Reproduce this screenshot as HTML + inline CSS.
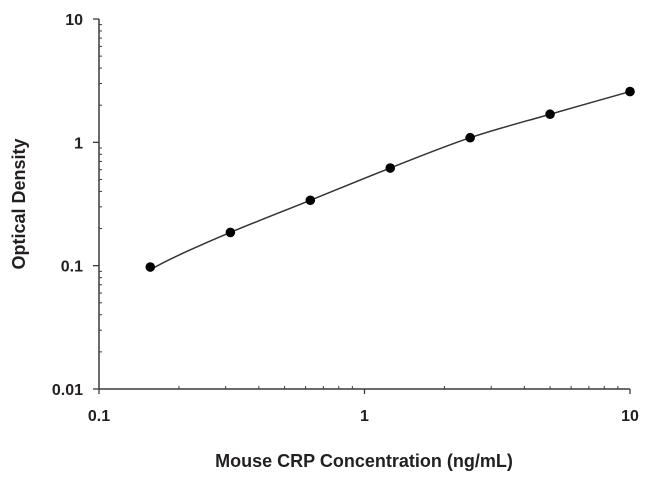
<!DOCTYPE html>
<html><head><meta charset="utf-8"><style>
html,body{margin:0;padding:0;background:#fff;}
svg{display:block;font-family:"Liberation Sans",sans-serif;}
</style></head><body>
<svg id="chart" width="650" height="481" viewBox="0 0 650 481">
<g id="axes"></g>
<g id="marks"></g>
<text x="364" y="467" text-anchor="middle" font-size="18" font-weight="bold" fill="#231f20">Mouse CRP Concentration (ng/mL)</text>
<text transform="translate(25,204) rotate(-90)" text-anchor="middle" font-size="18" font-weight="bold" fill="#231f20">Optical Density</text>
</svg>
<script>
const concentrations = [0.156, 0.3125, 0.625, 1.25, 2.5, 5, 10];
const odValues = [0.0975, 0.186, 0.339, 0.619, 1.09, 1.69, 2.58];
const xTickLabels = ["0.1", "1", "10"];
const yTickLabels = ["0.01", "0.1", "1", "10"];
const xDomain = [0.1, 10], yDomain = [0.01, 10];
const X0=99, X1=630, Y0=389, Y1=19;
const ns="http://www.w3.org/2000/svg";
function xs(v){return X0+(Math.log10(v)-Math.log10(xDomain[0]))/(Math.log10(xDomain[1])-Math.log10(xDomain[0]))*(X1-X0);}
function ys(v){return Y0-(Math.log10(v)-Math.log10(yDomain[0]))/(Math.log10(yDomain[1])-Math.log10(yDomain[0]))*(Y0-Y1);}
function mk(tag,attrs,parent){const e=document.createElementNS(ns,tag);for(const k in attrs)e.setAttribute(k,attrs[k]);parent.appendChild(e);return e;}
const axes=document.getElementById('axes'), marks=document.getElementById('marks');
const col="#3a3a3a";
let l=mk('line',{x1:X0,y1:Y0,x2:X1,y2:Y0,stroke:col,'stroke-width':1.5},axes);


l=mk('line',{x1:X0,y1:Y0,x2:X0,y2:Y1,stroke:col,'stroke-width':1.5},axes);


// x ticks
xTickLabels.forEach((t)=>{const v=parseFloat(t),x=xs(v);
  const tk=mk('line',{x1:x,y1:Y0,x2:x,y2:Y0+5,stroke:col,'stroke-width':1.3},axes);
  
  
  const tx=mk('text',{x:x,y:Y0+32,'text-anchor':'middle','font-size':16,'font-weight':'bold',fill:'#231f20'},axes);
  tx.textContent=t;
  
  
  if(v<xDomain[1]){for(let m=2;m<=9;m++){const mx=xs(v*m);
    const mt=mk('line',{x1:mx,y1:Y0,x2:mx,y2:Y0-3,stroke:col,'stroke-width':1},axes);
    
    }}
});
yTickLabels.forEach((t)=>{const v=parseFloat(t),y=ys(v);
  const tk=mk('line',{x1:X0-6,y1:y,x2:X0,y2:y,stroke:col,'stroke-width':1.3},axes);
  
  
  const tx=mk('text',{x:X0-16,y:y+6,'text-anchor':'end','font-size':16,'font-weight':'bold',fill:'#231f20'},axes);
  tx.textContent=t;
  
  
  if(v<yDomain[1]){for(let m=2;m<=9;m++){const my=ys(v*m);
    const mt=mk('line',{x1:X0,y1:my,x2:X0+3,y2:my,stroke:col,'stroke-width':1},axes);
    
    }}
});
// curve (Catmull-Rom through points)
const P=concentrations.map((c,i)=>[xs(c),ys(odValues[i])]);
let d=`M${P[0][0]},${P[0][1]+3}`;
for(let i=0;i<P.length-1;i++){const p0=P[Math.max(0,i-1)],p1=P[i],p2=P[i+1],p3=P[Math.min(P.length-1,i+2)];
  d+=` C${p1[0]+(p2[0]-p0[0])/6},${p1[1]+(p2[1]-p0[1])/6} ${p2[0]-(p3[0]-p1[0])/6},${p2[1]-(p3[1]-p1[1])/6} ${p2[0]},${p2[1]}`;}
const cv=mk('path',{d:d,fill:'none',stroke:'#333','stroke-width':1.5},marks);


P.forEach(p=>{const c=mk('circle',{cx:p[0],cy:p[1],r:4.8,fill:'#000'},marks);
  
  });
</script>
</body></html>
